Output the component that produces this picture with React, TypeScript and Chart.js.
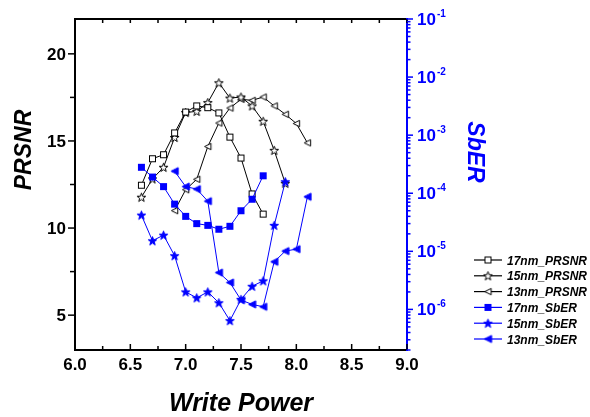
import React, { useEffect, useRef } from 'react';
import { Chart, registerables } from 'chart.js';

Chart.register(...registerables);

// ---- data ----
const power17 = [6.6, 6.7, 6.8, 6.9, 7.0, 7.1, 7.2, 7.3, 7.4, 7.5, 7.6, 7.7];
const prsnr17 = [12.46, 13.98, 14.21, 15.46, 16.66, 17.01, 16.91, 16.61, 15.22, 14.02, 11.96, 10.8];
const sber17 = [2.8e-4, 1.9e-4, 1.3e-4, 6.5e-5, 4.0e-5, 3.0e-5, 2.8e-5, 2.4e-5, 2.7e-5, 5.0e-5, 7.9e-5, 2.0e-4];

const power15 = [6.6, 6.7, 6.8, 6.9, 7.0, 7.1, 7.2, 7.3, 7.4, 7.5, 7.6, 7.7, 7.8, 7.9];
const prsnr15 = [11.77, 12.82, 13.49, 15.2, 16.63, 16.7, 17.2, 18.34, 17.46, 17.52, 17.01, 16.13, 14.46, 12.57];
const sber15 = [4.2e-5, 1.52e-5, 1.9e-5, 8.4e-6, 2.0e-6, 1.58e-6, 2.0e-6, 1.3e-6, 6.4e-7, 1.49e-6, 2.5e-6, 3.1e-6, 2.8e-5, 1.58e-4];

const power13 = [6.9, 7.0, 7.1, 7.2, 7.3, 7.4, 7.5, 7.6, 7.7, 7.8, 7.9, 8.0, 8.1];
const prsnr13 = [11.0, 12.2, 12.8, 14.68, 16.03, 16.89, 17.39, 17.33, 17.52, 17.01, 16.53, 16.0, 14.89];
const sber13 = [2.4e-4, 1.3e-4, 1.18e-4, 7.3e-5, 4.3e-6, 2.9e-6, 1.45e-6, 1.22e-6, 1.11e-6, 6.6e-6, 1.01e-5, 1.09e-5, 8.7e-5];

const seriesLabels = ['17nm_PRSNR', '15nm_PRSNR', '13nm_PRSNR', '17nm_SbER', '15nm_SbER', '13nm_SbER'];

const xTickValues = [6, 6.5, 7, 7.5, 8, 8.5, 9];
const xTickLabels = ['6.0', '6.5', '7.0', '7.5', '8.0', '8.5', '9.0'];
const yTickValues = [5, 10, 15, 20];
const yTickLabels = ['5', '10', '15', '20'];
const y1TickExponents = [-1, -2, -3, -4, -5, -6];

const xTitle = 'Write Power';
const yTitle = 'PRSNR';
const y1Title = 'SbER';

const BLUE = 'rgb(0,0,255)';
const FONT = '"Liberation Sans", Arial, sans-serif';

// ---- markers ----
function mk(size: number, draw: (c: CanvasRenderingContext2D, m: number) => void) {
  const cv = document.createElement('canvas');
  cv.width = size;
  cv.height = size;
  const c = cv.getContext('2d')!;
  draw(c, size / 2);
  return cv;
}
function squareMarker(fill: string, stroke: string) {
  return mk(9, (c, m) => {
    c.fillStyle = fill;
    c.strokeStyle = stroke;
    c.lineWidth = 1;
    c.fillRect(m - 3, m - 3, 6, 6);
    c.strokeRect(m - 3, m - 3, 6, 6);
  });
}
function starMarker(fill: string, stroke: string) {
  return mk(11, (c, m) => {
    const R = 4.6, r = 1.9;
    c.beginPath();
    for (let i = 0; i < 10; i++) {
      const a = -Math.PI / 2 + (i * Math.PI) / 5;
      const rr = i % 2 === 0 ? R : r;
      const px = m + rr * Math.cos(a);
      const py = m + 0.4 + rr * Math.sin(a);
      if (i === 0) c.moveTo(px, py);
      else c.lineTo(px, py);
    }
    c.closePath();
    c.fillStyle = fill;
    c.fill();
    c.strokeStyle = stroke;
    c.lineWidth = 1;
    c.stroke();
  });
}
function triMarker(fill: string, stroke: string, h: number) {
  return mk(11, (c, m) => {
    c.beginPath();
    c.moveTo(m - h, m);
    c.lineTo(m + h, m - h);
    c.lineTo(m + h, m + h);
    c.closePath();
    c.fillStyle = fill;
    c.fill();
    c.strokeStyle = stroke;
    c.lineWidth = 1;
    c.stroke();
  });
}

function line(ctx: CanvasRenderingContext2D, x1: number, y1: number, x2: number, y2: number) {
  ctx.beginPath();
  ctx.moveTo(x1, y1);
  ctx.lineTo(x2, y2);
  ctx.stroke();
}

const decor = {
  id: 'decor',
  afterDraw(chart: any) {
    const ctx: CanvasRenderingContext2D = chart.ctx;
    const { left, right, top, bottom } = chart.chartArea;
    const xs = chart.scales.x, ys = chart.scales.y, yr = chart.scales.y1;
    ctx.save();

    // frame
    ctx.lineWidth = 2;
    ctx.strokeStyle = '#000';
    ctx.beginPath();
    ctx.moveTo(right, top);
    ctx.lineTo(left, top);
    ctx.lineTo(left, bottom);
    ctx.lineTo(right, bottom);
    ctx.stroke();
    ctx.strokeStyle = BLUE;
    line(ctx, right, top - 1, right, bottom + 1);

    // x ticks
    ctx.strokeStyle = '#000';
    ctx.lineWidth = 1.5;
    for (let i = 0; i < xTickValues.length; i++) {
      const v = xTickValues[i];
      const px = xs.getPixelForValue(v);
      line(ctx, px, bottom, px, bottom - 6);
      line(ctx, px, top, px, top + 4);
      if (i < xTickValues.length - 1) {
        const mv = (v + xTickValues[i + 1]) / 2;
        const mp = xs.getPixelForValue(mv);
        line(ctx, mp, bottom, mp, bottom - 4);
        line(ctx, mp, top, mp, top + 4);
      }
    }
    // y ticks (outward)
    for (let i = 0; i < yTickValues.length; i++) {
      const v = yTickValues[i];
      const py = ys.getPixelForValue(v);
      line(ctx, left, py, left - 7, py);
      const mv = v - 2.5;
      if (mv >= ys.min) {
        const mp = ys.getPixelForValue(mv);
        line(ctx, left, mp, left - 5, mp);
      }
    }
    const lastMinor = yTickValues[yTickValues.length - 1] + 2.5;
    if (lastMinor <= ys.max) {
      const mp = ys.getPixelForValue(lastMinor);
      line(ctx, left, mp, left - 5, mp);
    }
    // right log ticks
    ctx.strokeStyle = BLUE;
    for (let e = -7; e <= -1; e++) {
      for (let k = 1; k <= 9; k++) {
        const v = k * Math.pow(10, e);
        if (v < yr.min * 0.999 || v > yr.max * 1.001) continue;
        const py = yr.getPixelForValue(v);
        line(ctx, right, py, right + (k === 1 ? 6 : 3.5), py);
      }
    }

    // tick labels
    ctx.fillStyle = '#000';
    ctx.font = `bold 17px ${FONT}`;
    ctx.textAlign = 'center';
    ctx.textBaseline = 'alphabetic';
    xTickValues.forEach((v, i) => {
      ctx.fillText(xTickLabels[i], xs.getPixelForValue(v), bottom + 20);
    });
    ctx.textAlign = 'right';
    yTickValues.forEach((v, i) => {
      ctx.fillText(yTickLabels[i], left - 9, ys.getPixelForValue(v) + 6);
    });
    ctx.fillStyle = BLUE;
    ctx.textAlign = 'left';
    y1TickExponents.forEach((e) => {
      const py = yr.getPixelForValue(Math.pow(10, e));
      ctx.font = `bold 17px ${FONT}`;
      ctx.fillText('10', right + 10, py + 6);
      const w = ctx.measureText('10').width;
      ctx.font = `bold 10px ${FONT}`;
      ctx.fillText(String(e).replace('-', '-'), right + 11 + w, py - 2);
    });

    // axis titles
    ctx.fillStyle = '#000';
    ctx.font = `italic bold 25px ${FONT}`;
    ctx.textAlign = 'center';
    ctx.fillText(xTitle, (left + right) / 2, 411);

    ctx.font = `italic bold 23px ${FONT}`;
    ctx.save();
    ctx.translate(22.5, 150);
    ctx.rotate(-Math.PI / 2);
    ctx.fillText(yTitle, 0, 8);
    ctx.restore();

    ctx.fillStyle = BLUE;
    ctx.save();
    ctx.translate(476, 152);
    ctx.rotate(Math.PI / 2);
    ctx.fillText(y1Title, 0, 8);
    ctx.restore();

    // legend
    ctx.font = `italic bold 12px ${FONT}`;
    ctx.textAlign = 'left';
    const dsets = chart.data.datasets;
    dsets.forEach((d: any, i: number) => {
      const cy = 260 + i * 15.8;
      ctx.strokeStyle = d.borderColor;
      ctx.lineWidth = 1.2;
      line(ctx, 474, cy, 502, cy);
      const img = d.pointStyle as HTMLCanvasElement;
      ctx.drawImage(img, 488 - img.width / 2, cy - img.height / 2);
      ctx.fillStyle = '#000';
      ctx.fillText(d.label, 507, cy + 4.5);
    });

    ctx.restore();
  },
};

export default function App() {
  const ref = useRef<HTMLCanvasElement | null>(null);
  useEffect(() => {
    document.body.style.margin = '0';
    const mkDs = (label: string, px: number[], vals: number[], axis: string, color: string, style: any, order: number) => ({
      label,
      data: px.map((x, i) => ({ x, y: vals[i] })),
      yAxisID: axis,
      borderColor: color,
      backgroundColor: color,
      borderWidth: 1,
      pointStyle: style,
      pointRadius: 4,
      pointHoverRadius: 4,
      fill: false,
      tension: 0,
      order,
    });
    const datasets = [
      mkDs(seriesLabels[0], power17, prsnr17, 'y', '#000', squareMarker('#fff', '#000'), 1),
      mkDs(seriesLabels[1], power15, prsnr15, 'y', '#000', starMarker('#fff', '#000'), 1),
      mkDs(seriesLabels[2], power13, prsnr13, 'y', '#000', triMarker('#fff', '#000', 3.2), 1),
      mkDs(seriesLabels[3], power17, sber17, 'y1', BLUE, squareMarker(BLUE, BLUE), 0),
      mkDs(seriesLabels[4], power15, sber15, 'y1', BLUE, starMarker(BLUE, BLUE), 0),
      mkDs(seriesLabels[5], power13, sber13, 'y1', BLUE, triMarker(BLUE, BLUE, 3.6), 0),
    ];
    const chart = new Chart(ref.current!, {
      type: 'line',
      data: { datasets },
      plugins: [decor],
      options: {
        responsive: false,
        animation: false,
        devicePixelRatio: 1,
        layout: { padding: { top: 19, left: 0, right: 0, bottom: 0 } },
        plugins: { legend: { display: false }, tooltip: { enabled: false } },
        scales: {
          x: {
            type: 'linear',
            min: 6,
            max: 9,
            grid: { display: false },
            border: { display: false },
            ticks: { display: false },
            afterFit: (s: any) => { s.height = 67; },
          },
          y: {
            type: 'linear',
            position: 'left',
            min: 3,
            max: 22,
            grid: { display: false },
            border: { display: false },
            ticks: { display: false },
            afterFit: (s: any) => { s.width = 75; },
          },
          y1: {
            type: 'logarithmic',
            position: 'right',
            min: 2e-7,
            max: 0.1,
            grid: { display: false },
            border: { display: false },
            ticks: { display: false },
            afterFit: (s: any) => { s.width = 183; },
          },
        },
      } as any,
    });
    return () => chart.destroy();
  }, []);
  return (
    <div style={{ position: 'absolute', left: 0, top: 0, width: 590, height: 417, background: '#fff' }}>
      <canvas ref={ref} width={590} height={417} style={{ width: 590, height: 417 }} />
    </div>
  );
}
